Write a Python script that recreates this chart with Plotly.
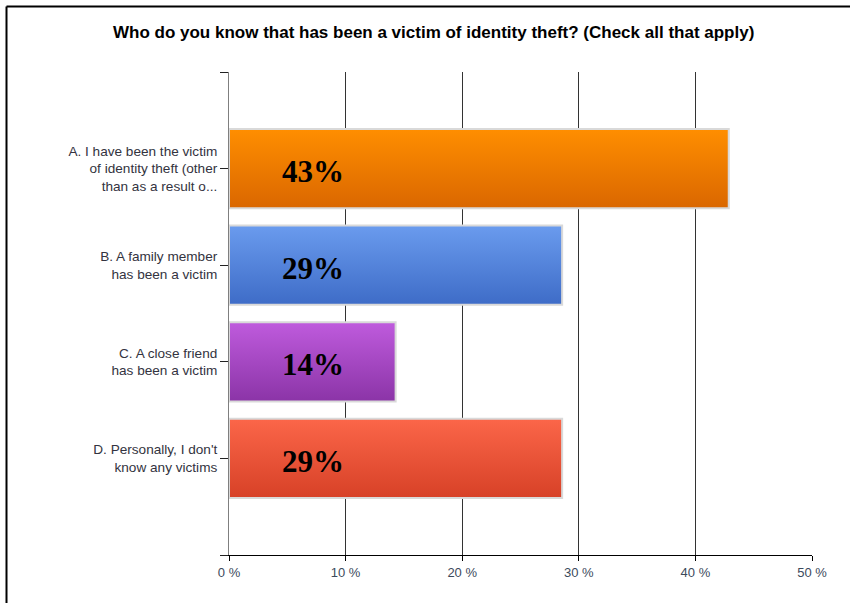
import plotly.graph_objects as go

# Survey answers (top to bottom) and share of respondents, in percent
categories = [
    "A. I have been the victim<br>of identity theft (other<br>than as a result o...",
    "B. A family member<br>has been a victim",
    "C. A close friend<br>has been a victim",
    "D. Personally, I don't<br>know any victims",
]
values = [42.86, 28.57, 14.29, 28.57]
x_ticks = [0, 10, 20, 30, 40, 50]
x_tick_text = ["0 %", "10 %", "20 %", "30 %", "40 %", "50 %"]

# Vertical gradient per bar: (bottom colour, top colour)
bar_gradients = [
    ("#DA6700", "#FF8E00"),
    ("#3E6CC7", "#6A9BEE"),
    ("#8B34A7", "#BF5BDD"),
    ("#D74127", "#FB6649"),
]

title = "Who do you know that has been a victim of identity theft? (Check all that apply)"

n = len(categories)
positions = [n - 1 - i for i in range(n)]  # first category on top
half = 0.41

fig = go.Figure()

for pos, val, (c0, c1) in zip(positions, values, bar_gradients):
    fig.add_trace(go.Scatter(
        x=[0, val, val, 0, 0],
        y=[pos - half, pos - half, pos + half, pos + half, pos - half],
        mode="lines",
        fill="toself",
        fillgradient=dict(type="vertical", colorscale=[[0, c0], [1, c1]]),
        line=dict(color="#D9D9D9", width=2),
        hoverinfo="skip",
        showlegend=False,
    ))

# value labels, rounded to whole percent
for pos, val in zip(positions, values):
    fig.add_annotation(
        x=7.2, y=pos, xref="x", yref="y", text=f"<b>{val:.0f}%</b>",
        showarrow=False, yshift=-3,
        font=dict(family="Liberation Serif", size=31, color="#000000"),
    )

fig.add_annotation(
    x=(433 - 229) / 583, y=(555 - 33) / 483, xref="paper", yref="paper",
    xanchor="center", yanchor="middle",
    text="<b>" + title + "</b>", showarrow=False,
    font=dict(family="Liberation Sans, Arial", size=17, color="#000000"),
)

# outer frame (left and top edges)
fig.add_shape(type="line", xref="paper", yref="paper",
              x0=(6.5 - 229) / 583, x1=(6.5 - 229) / 583,
              y0=(555 - 6.5) / 483, y1=(555 - 610) / 483,
              line=dict(color="#000000", width=2))
fig.add_shape(type="line", xref="paper", yref="paper",
              x0=(6.5 - 229) / 583, x1=(860 - 229) / 583,
              y0=(555 - 6.5) / 483, y1=(555 - 6.5) / 483,
              line=dict(color="#000000", width=2))

fig.update_layout(
    width=850, height=603,
    margin=dict(l=229, r=38, t=72, b=48),
    paper_bgcolor="#FFFFFF",
    plot_bgcolor="#FFFFFF",
    font=dict(family="Liberation Sans, Arial", size=12, color="#333333"),
    xaxis=dict(
        range=[0, 50], tickvals=x_ticks, ticktext=x_tick_text,
        showgrid=True, gridcolor="#333333", gridwidth=1,
        zeroline=False, showline=True, linecolor="#000000", linewidth=1,
        ticks="outside", ticklen=5, tickcolor="#000000",
        tickfont=dict(size=13, color="#3C4A5C"),
        fixedrange=True,
    ),
    yaxis=dict(
        range=[-1, 4],
        tickvals=[-1] + positions + [4],
        ticktext=[""] + categories + [""],
        showgrid=False, zeroline=False,
        showline=True, linecolor="#7F7F7F", linewidth=1,
        ticks="outside", ticklen=8, tickcolor="#222222",
        tickfont=dict(size=13.6, color="#333340"),
        fixedrange=True,
    ),
)

fig.write_html("out.html")
